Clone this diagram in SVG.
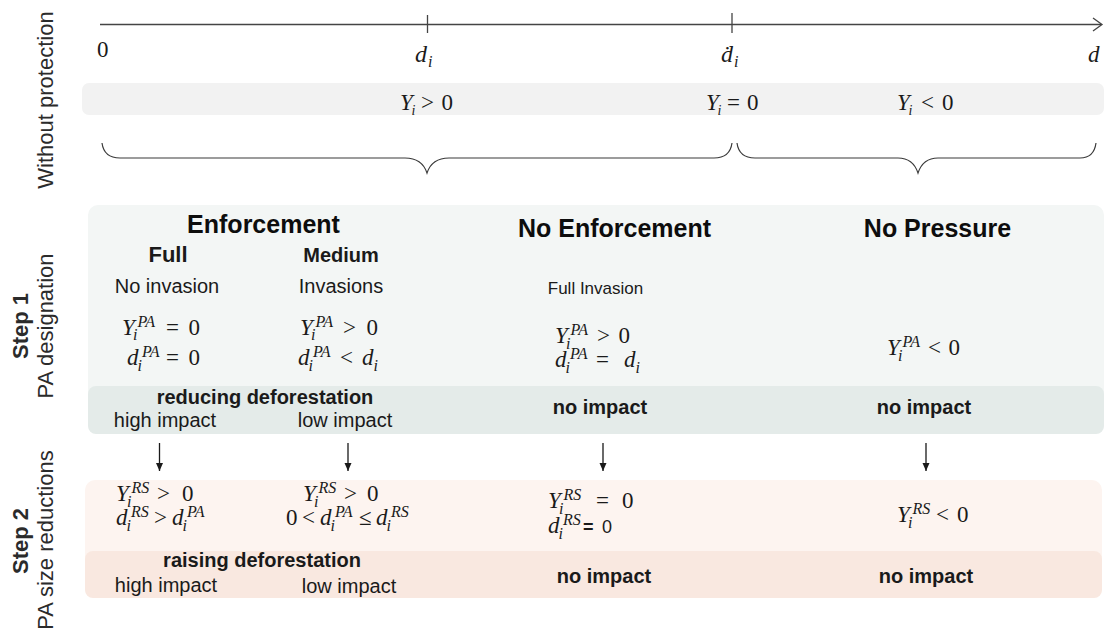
<svg xmlns="http://www.w3.org/2000/svg" width="1105" height="634" viewBox="0 0 1105 634">
<defs>
<style>
.sans{font-family:"Liberation Sans",Arial,sans-serif;fill:#1a1a1a}
.lbl{font-size:22px;fill:#2b2b2b;text-anchor:middle}
.b{font-weight:bold}
.h{font-size:25px;font-weight:bold;text-anchor:middle;fill:#0d0d0d}
.t20{font-size:20px}
.c{text-anchor:middle}
.m{font-family:"Liberation Serif","DejaVu Serif",serif;font-size:23px;fill:#1a1a1a}
.it{font-style:italic}
.sc{font-size:16px;font-style:italic}
.sc2{font-size:14px;font-style:italic}
.ln{stroke:#444;stroke-width:1.3;fill:none}
.br{stroke:#3a3a3a;stroke-width:1.2;fill:none}
.arr{stroke:#1a1a1a;stroke-width:1.3;fill:none}
</style>
<marker id="ah" markerWidth="8" markerHeight="8" refX="8" refY="4" orient="auto" markerUnits="userSpaceOnUse">
<path d="M0,0.5 L8,4 L0,7.5 z" fill="#1a1a1a"/>
</marker>
</defs>
<rect width="1105" height="634" fill="#ffffff"/>

<g id="left-labels" class="sans">
<text class="lbl" transform="translate(53,100) rotate(-90)">Without protection</text>
<text class="lbl b" transform="translate(28,326) rotate(-90)">Step 1</text>
<text class="lbl" transform="translate(53,326) rotate(-90)">PA designation</text>
<text class="lbl b" transform="translate(28,541) rotate(-90)">Step 2</text>
<text class="lbl" transform="translate(53,540) rotate(-90)">PA size reductions</text>
</g>

<g id="axis">
<line class="ln" x1="100" y1="24.5" x2="1101" y2="24.5"/>
<polyline class="ln" points="1093,18 1102,24.5 1093,31"/>
<line class="ln" x1="427.5" y1="15" x2="427.5" y2="33"/>
<line class="ln" x1="732" y1="13" x2="732" y2="33"/>
<text class="m" x="97" y="57" font-size="18">0</text>
<text class="m"><tspan class="it" x="415" y="62" font-size="24">d</tspan><tspan class="sc" x="428" y="67" font-size="15">i</tspan></text>
<text class="m"><tspan class="it" x="721" y="62" font-size="24">ḋ</tspan><tspan class="sc" x="734" y="67" font-size="15">i</tspan></text>
<text class="m it" x="1088" y="62" font-size="24">d</text>
</g>

<g id="without-protection-band">
<rect x="82" y="83" width="1022" height="32" rx="7" fill="#f2f2f2"/>
<text class="m" font-size="21"><tspan class="it" x="400" y="110">Y</tspan><tspan class="sc2" x="411.5" y="115">i</tspan><tspan x="421" y="110">&gt;</tspan><tspan x="441.5" y="110">0</tspan></text>
<text class="m" font-size="21"><tspan class="it" x="706" y="110">Y</tspan><tspan class="sc2" x="717.5" y="115">i</tspan><tspan x="727" y="110">=</tspan><tspan x="747" y="110">0</tspan></text>
<text class="m" font-size="21"><tspan class="it" x="897" y="110">Y</tspan><tspan class="sc2" x="908.5" y="115">i</tspan><tspan x="921" y="110">&lt;</tspan><tspan x="942" y="110">0</tspan></text>
</g>

<g id="braces">
<path class="br" d="M102,143 Q104,158 120,158 L405,158 Q422,158 427,173 Q432,158 449,158 L714,158 Q730,158 732,143"/>
<path class="br" d="M737,143 Q739,158 755,158 L898,158 Q913,158 918,173 Q923,158 938,158 L1080,158 Q1094,158 1096,143"/>
</g>

<g id="step1">
<rect x="88" y="205" width="1016" height="229" rx="10" fill="#f3f6f5"/>
<rect x="88" y="386" width="1016" height="48" rx="8" fill="#e4ebe9"/>

<g id="s1-enforcement">
<text class="sans h" x="263.5" y="233">Enforcement</text>
<text class="sans b c" x="168" y="262" font-size="22">Full</text>
<text class="sans b c" x="341" y="262" font-size="20">Medium</text>
<text class="sans t20 c" x="167" y="293">No invasion</text>
<text class="sans t20 c" x="341" y="293">Invasions</text>
<text class="m"><tspan class="it" x="122" y="335">Y</tspan><tspan class="sc" x="137.5" y="327">PA</tspan><tspan class="sc" x="133" y="340" font-size="15">i</tspan><tspan x="166" y="335">=</tspan><tspan x="188.5" y="335">0</tspan></text>
<text class="m"><tspan class="it" x="127" y="365">d</tspan><tspan class="sc" x="142" y="357">PA</tspan><tspan class="sc" x="137.5" y="371">i</tspan><tspan x="166" y="365">=</tspan><tspan x="188.5" y="365">0</tspan></text>
<text class="m"><tspan class="it" x="300" y="335">Y</tspan><tspan class="sc" x="315.5" y="327">PA</tspan><tspan class="sc" x="311" y="340" font-size="15">i</tspan><tspan x="343" y="335">&gt;</tspan><tspan x="366.5" y="335">0</tspan></text>
<text class="m"><tspan class="it" x="298" y="365">d</tspan><tspan class="sc" x="313" y="357">PA</tspan><tspan class="sc" x="308.5" y="371">i</tspan><tspan x="340" y="365">&lt;</tspan><tspan class="it" x="362" y="365">d</tspan><tspan class="sc" x="373.5" y="371">i</tspan></text>
<text class="sans b t20 c" x="265" y="404">reducing deforestation</text>
<text class="sans t20 c" x="165" y="427">high impact</text>
<text class="sans t20 c" x="345" y="427">low impact</text>
</g>

<g id="s1-no-enforcement">
<text class="sans h" x="614.5" y="237">No Enforcement</text>
<text class="sans c" x="595.5" y="294" font-size="17">Full Invasion</text>
<text class="m"><tspan class="it" x="555" y="343">Y</tspan><tspan class="sc" x="570.5" y="335">PA</tspan><tspan class="sc" x="566" y="349">i</tspan><tspan x="597" y="343">&gt;</tspan><tspan x="618.5" y="343">0</tspan></text>
<text class="m"><tspan class="it" x="555" y="367">d</tspan><tspan class="sc" x="570" y="359">PA</tspan><tspan class="sc" x="565.5" y="373">i</tspan><tspan x="596" y="367">=</tspan><tspan class="it" x="624" y="367">d</tspan><tspan class="sc" x="635.5" y="373">i</tspan></text>
<text class="sans b t20 c" x="600" y="414">no impact</text>
</g>

<g id="s1-no-pressure">
<text class="sans h" x="937.5" y="237">No Pressure</text>
<text class="m"><tspan class="it" x="887" y="355">Y</tspan><tspan class="sc" x="902.5" y="347">PA</tspan><tspan class="sc" x="898" y="361">i</tspan><tspan x="928" y="355">&lt;</tspan><tspan x="948.5" y="355">0</tspan></text>
<text class="sans b t20 c" x="924" y="414">no impact</text>
</g>
</g>

<g id="connectors">
<line class="arr" x1="159.5" y1="443" x2="159.5" y2="471" marker-end="url(#ah)"/>
<line class="arr" x1="348" y1="443" x2="348" y2="471" marker-end="url(#ah)"/>
<line class="arr" x1="603" y1="443" x2="603" y2="471" marker-end="url(#ah)"/>
<line class="arr" x1="926" y1="443" x2="926" y2="471" marker-end="url(#ah)"/>
</g>

<g id="step2">
<rect x="85" y="480" width="1017" height="118" rx="10" fill="#fdf4f0"/>
<rect x="85" y="551" width="1017" height="47" rx="8" fill="#f9e8e0"/>

<g id="s2-enforcement">
<text class="m"><tspan class="it" x="116" y="501">Y</tspan><tspan class="sc" x="131.5" y="493">RS</tspan><tspan class="sc" x="127" y="507">i</tspan><tspan x="157" y="501">&gt;</tspan><tspan x="182" y="501">0</tspan></text>
<text class="m"><tspan class="it" x="116" y="525">d</tspan><tspan class="sc" x="131" y="517">RS</tspan><tspan class="sc" x="126.5" y="531">i</tspan><tspan x="154" y="525">&gt;</tspan><tspan class="it" x="172" y="525">d</tspan><tspan class="sc" x="187" y="517">PA</tspan><tspan class="sc" x="182.5" y="531">i</tspan></text>
<text class="m"><tspan class="it" x="303" y="501">Y</tspan><tspan class="sc" x="318.5" y="493">RS</tspan><tspan class="sc" x="314" y="507">i</tspan><tspan x="344" y="501">&gt;</tspan><tspan x="367" y="501">0</tspan></text>
<text class="m"><tspan x="286" y="525">0</tspan><tspan x="302" y="525">&lt;</tspan><tspan class="it" x="320" y="525">d</tspan><tspan class="sc" x="335" y="517">PA</tspan><tspan class="sc" x="330.5" y="531">i</tspan><tspan x="359" y="525">≤</tspan><tspan class="it" x="376" y="525">d</tspan><tspan class="sc" x="391" y="517">RS</tspan><tspan class="sc" x="386.5" y="531">i</tspan></text>
<text class="sans b t20 c" x="262" y="567">raising deforestation</text>
<text class="sans t20 c" x="166" y="592">high impact</text>
<text class="sans t20 c" x="349" y="593">low impact</text>
</g>

<g id="s2-no-enforcement">
<text class="m"><tspan class="it" x="548" y="508">Y</tspan><tspan class="sc" x="563.5" y="500">RS</tspan><tspan class="sc" x="559" y="514">i</tspan><tspan x="596" y="508">=</tspan><tspan x="622" y="508">0</tspan></text>
<text class="m"><tspan class="it" x="548" y="533">d</tspan><tspan class="sc" x="563" y="525">RS</tspan><tspan class="sc" x="558.5" y="539">i</tspan></text>
<text class="sans" font-size="18"><tspan class="b" x="583" y="533">=</tspan><tspan x="602" y="533">0</tspan></text>
<text class="sans b t20 c" x="604" y="583">no impact</text>
</g>

<g id="s2-no-pressure">
<text class="m"><tspan class="it" x="897" y="522">Y</tspan><tspan class="sc" x="912.5" y="514">RS</tspan><tspan class="sc" x="908" y="528">i</tspan><tspan x="936" y="522">&lt;</tspan><tspan x="957" y="522">0</tspan></text>
<text class="sans b t20 c" x="926" y="583">no impact</text>
</g>
</g>
</svg>
